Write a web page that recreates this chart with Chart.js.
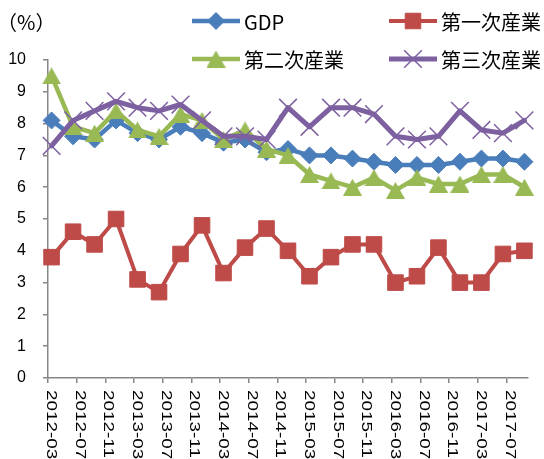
<!DOCTYPE html>
<html>
<head>
<meta charset="utf-8">
<script src="https://cdn.jsdelivr.net/npm/chart.js@4.4.1/dist/chart.umd.min.js"></script>
<style>
  html, body { margin: 0; padding: 0; background: #ffffff; }
  #wrap { width: 544px; height: 459px; position: relative; }
</style>
</head>
<body>
<div id="wrap"><canvas id="c" width="544" height="459"></canvas></div>
<script>
// Quarterly observations (year-month of quarter end)
const quarters = [
  '2012-03','2012-06','2012-09','2012-12',
  '2013-03','2013-06','2013-09','2013-12',
  '2014-03','2014-06','2014-09','2014-12',
  '2015-03','2015-06','2015-09','2015-12',
  '2016-03','2016-06','2016-09','2016-12',
  '2017-03','2017-06','2017-09'
];
const gdp       = [8.1, 7.6, 7.5, 8.1, 7.7, 7.5, 7.9, 7.7, 7.4, 7.5, 7.1, 7.2, 7.0, 7.0, 6.9, 6.8, 6.7, 6.7, 6.7, 6.8, 6.9, 6.9, 6.8];
const primary   = [3.8, 4.6, 4.2, 5.0, 3.1, 2.7, 3.9, 4.8, 3.3, 4.1, 4.7, 4.0, 3.2, 3.8, 4.2, 4.2, 3.0, 3.2, 4.1, 3.0, 3.0, 3.9, 4.0];
const secondary = [9.5, 7.9, 7.7, 8.4, 7.8, 7.6, 8.3, 8.1, 7.5, 7.8, 7.2, 7.0, 6.4, 6.2, 6.0, 6.3, 5.9, 6.3, 6.1, 6.1, 6.4, 6.4, 6.0];
const tertiary  = [7.3, 8.1, 8.4, 8.7, 8.5, 8.4, 8.6, 8.1, 7.6, 7.6, 7.5, 8.5, 7.9, 8.5, 8.5, 8.3, 7.6, 7.5, 7.6, 8.4, 7.8, 7.7, 8.1];

const seriesNames = ['GDP', '第一次産業', '第二次産業', '第三次産業'];
const tickLabels = [
  '2012-03','2012-07','2012-11','2013-03','2013-07','2013-11',
  '2014-03','2014-07','2014-11','2015-03','2015-07','2015-11',
  '2016-03','2016-07','2016-11','2017-03','2017-07'
];
const unitLabel = '（%）';
const yTicks = [0, 1, 2, 3, 4, 5, 6, 7, 8, 9, 10];

// months counted from 2012-03 (start of month)
function monthIndex(ym) {
  const [y, m] = ym.split('-').map(Number);
  return (y - 2012) * 12 + (m - 3);
}
// a month's value sits in the middle of that month on the date axis
function toPoints(values) {
  return values.map((v, i) => ({ x: monthIndex(quarters[i]) + 0.5, y: v }));
}

// triangle marker centred on its bounding box
function triangleMarker(color, w, h) {
  const cv = document.createElement('canvas');
  cv.width = w; cv.height = h;
  const c = cv.getContext('2d');
  c.fillStyle = color;
  c.beginPath();
  c.moveTo(w / 2, 0);
  c.lineTo(w, h);
  c.lineTo(0, h);
  c.closePath();
  c.fill();
  return cv;
}

const BLUE = '#4A7EBB', RED = '#BE4B48', GREEN = '#98B954', PURPLE = '#7D60A0';
const AXIS = '#868686';

// vertical date labels under the x axis, reading downward
const xLabelPlugin = {
  id: 'xLabels',
  afterDraw(chart) {
    const scale = chart.scales.x;
    const ctx = chart.ctx;
    ctx.save();
    ctx.fillStyle = '#000';
    ctx.font = '14px "Liberation Sans", Arial, sans-serif';
    ctx.textAlign = 'left';
    ctx.textBaseline = 'alphabetic';
    tickLabels.forEach(lbl => {
      const px = scale.getPixelForValue(monthIndex(lbl));
      ctx.save();
      ctx.translate(px - 1, scale.top + 12);
      ctx.rotate(Math.PI / 2);
      ctx.scale(1.35, 1);
      ctx.fillText(lbl, 0, 0);
      ctx.restore();
    });
    ctx.restore();
  }
};

// two-by-two legend in the upper right, plus the unit caption
const cornerLegend = {
  id: 'cornerLegend',
  afterDraw(chart) {
    const ctx = chart.ctx;
    const slots = [[192, 21], [389, 21], [192, 59], [389, 59]];
    chart.data.datasets.forEach((ds, i) => {
      const [x, y] = slots[i];
      ctx.save();
      ctx.strokeStyle = ds.borderColor;
      ctx.lineWidth = ds.borderWidth;
      ctx.lineCap = 'butt';
      ctx.beginPath();
      ctx.moveTo(x, y);
      ctx.lineTo(x + 48, y);
      ctx.stroke();
      ctx.fillStyle = ds.pointBackgroundColor;
      ctx.strokeStyle = ds.pointBorderColor;
      ctx.lineWidth = ds.pointBorderWidth;
      Chart.helpers.drawPoint(ctx, {
        pointStyle: ds.pointStyle, radius: ds.pointRadius,
        rotation: 0, borderWidth: ds.pointBorderWidth
      }, x + 24, y);
      ctx.fillStyle = '#000';
      ctx.font = '20px "Noto Sans CJK JP", sans-serif';
      ctx.textAlign = 'left';
      ctx.textBaseline = 'middle';
      ctx.fillText(ds.label, x + 52, y + 1);
      ctx.restore();
    });
    ctx.save();
    ctx.fillStyle = '#000';
    ctx.font = '20px "Noto Sans CJK JP", sans-serif';
    ctx.textAlign = 'left';
    ctx.textBaseline = 'middle';
    ctx.fillText(unitLabel, -3, 22);
    ctx.restore();
  }
};

const base = {
  fill: false, tension: 0, borderJoinStyle: 'round', borderCapStyle: 'round',
  pointHoverRadius: 0, clip: false
};

new Chart(document.getElementById('c'), {
  type: 'line',
  data: {
    datasets: [
      Object.assign({}, base, {
        label: seriesNames[0], data: toPoints(gdp), order: 3,
        borderColor: BLUE, backgroundColor: BLUE, borderWidth: 4.5,
        pointStyle: 'rectRot', pointRadius: 8.5,
        pointBackgroundColor: BLUE, pointBorderColor: BLUE, pointBorderWidth: 1
      }),
      Object.assign({}, base, {
        label: seriesNames[1], data: toPoints(primary), order: 2,
        borderColor: RED, backgroundColor: RED, borderWidth: 4,
        pointStyle: 'rect', pointRadius: 11,
        pointBackgroundColor: RED, pointBorderColor: RED, pointBorderWidth: 1
      }),
      Object.assign({}, base, {
        label: seriesNames[2], data: toPoints(secondary), order: 1,
        borderColor: GREEN, backgroundColor: GREEN, borderWidth: 4.5,
        pointStyle: triangleMarker(GREEN, 19, 17), pointRadius: 9,
        pointBackgroundColor: GREEN, pointBorderColor: GREEN, pointBorderWidth: 0
      }),
      Object.assign({}, base, {
        label: seriesNames[3], data: toPoints(tertiary), order: 0,
        borderColor: PURPLE, backgroundColor: PURPLE, borderWidth: 5,
        pointStyle: 'crossRot', pointRadius: 12.5,
        pointBackgroundColor: PURPLE, pointBorderColor: PURPLE, pointBorderWidth: 1.5
      })
    ]
  },
  options: {
    responsive: false,
    animation: false,
    events: [],
    layout: { padding: { top: 60, right: 16, left: 0, bottom: 0 } },
    plugins: { legend: { display: false }, tooltip: { enabled: false }, title: { display: false } },
    scales: {
      x: {
        type: 'linear',
        min: 0,
        max: 67,
        afterBuildTicks: s => { s.ticks = tickLabels.map(l => ({ value: monthIndex(l) })); },
        afterFit: s => { s.height = 81; },
        ticks: { display: false },
        grid: { display: true, drawOnChartArea: false, drawTicks: true, tickLength: 5, color: AXIS, lineWidth: 1.5 },
        border: { display: true, color: AXIS, width: 1.5 }
      },
      y: {
        min: 0,
        max: 10,
        afterBuildTicks: s => { s.ticks = yTicks.map(v => ({ value: v })); },
        afterFit: s => { s.width = 48; },
        ticks: {
          color: '#000',
          padding: 17,
          font: { family: '"Liberation Sans", Arial, sans-serif', size: 16 }
        },
        grid: { display: true, drawOnChartArea: false, drawTicks: true, tickLength: 5, color: AXIS, lineWidth: 1.5 },
        border: { display: true, color: AXIS, width: 1.5 }
      }
    }
  },
  plugins: [xLabelPlugin, cornerLegend]
});
</script>
</body>
</html>
